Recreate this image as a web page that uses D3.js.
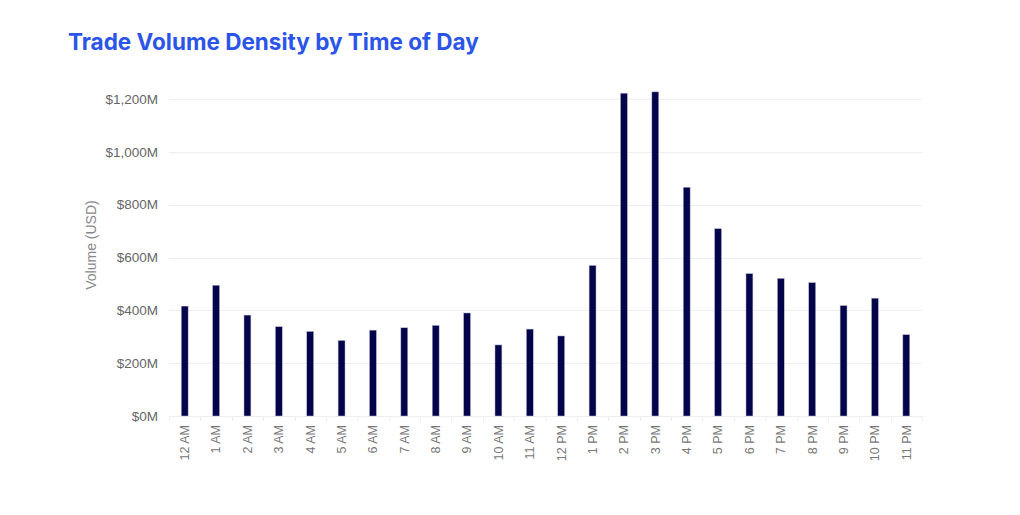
<!DOCTYPE html>
<html><head><meta charset="utf-8">
<script src="https://cdn.jsdelivr.net/npm/d3@7"></script>
<style>body{margin:0;background:#fff;} svg{display:block;}</style>
</head><body>
<svg id="chart" width="1020" height="515"></svg>
<script>
const categories = ["12 AM","1 AM","2 AM","3 AM","4 AM","5 AM","6 AM","7 AM","8 AM","9 AM","10 AM","11 AM",
  "12 PM","1 PM","2 PM","3 PM","4 PM","5 PM","6 PM","7 PM","8 PM","9 PM","10 PM","11 PM"];
const volumes = [416, 495, 382, 338, 320, 286, 325, 334, 343, 390, 269, 329,
  303, 570, 1222, 1227, 866, 709, 539, 521, 505, 418, 446, 308];
const yTicks = [0, 200, 400, 600, 800, 1000, 1200];
const titleText = "Trade Volume Density by Time of Day";
const yTitle = "Volume (USD)";

const svg = d3.select("#chart");
const pLeft = 169, pRight = 922, pTop = 99, pBottom = 416;

const x = d3.scaleBand().domain(categories).range([pLeft, pRight]).paddingInner(0.78).paddingOuter(0.39);
const y = d3.scaleLinear().domain([0, 1200]).range([pBottom, pTop]);

svg.append("text").attr("x", 68).attr("y", 50)
  .attr("font-family", "Inter, 'Open Sans', sans-serif").attr("font-weight", 700)
  .attr("font-size", 22.5).attr("fill", "#2b54e8").text(titleText);

// grid
svg.append("g").selectAll("line").data(yTicks).join("line")
  .attr("x1", pLeft).attr("x2", pRight)
  .attr("y1", d => Math.round(y(d)) + 0.5).attr("y2", d => Math.round(y(d)) + 0.5)
  .attr("stroke", "#eeeeee").attr("stroke-width", 1);

// y axis labels
const yAxis = svg.append("g").attr("transform", `translate(${pLeft},0)`)
  .call(d3.axisLeft(y).tickValues(yTicks).tickSize(0).tickPadding(11)
    .tickFormat(d => "$" + d3.format(",")(d) + "M"));
yAxis.select(".domain").remove();
yAxis.selectAll("text").attr("font-family", "'Liberation Sans', Arial, sans-serif")
  .attr("font-size", 13.5).attr("fill", "#666");

svg.append("text").attr("transform", `translate(96,245) rotate(-90)`)
  .attr("text-anchor", "middle").attr("font-family", "'Liberation Sans', Arial, sans-serif")
  .attr("font-size", 14).attr("fill", "#888").text(yTitle);

// x axis band-edge ticks
const step = x.step();
const edges = categories.map(c => x(c) - (step - x.bandwidth()) / 2).concat([pRight]);
svg.append("g").selectAll("line").data(edges).join("line")
  .attr("x1", d => Math.round(d) + 0.5).attr("x2", d => Math.round(d) + 0.5)
  .attr("y1", pBottom).attr("y2", pBottom + 5).attr("stroke", "#eeeeee");

// bars
svg.append("g").selectAll("rect").data(volumes).join("rect")
  .attr("x", (d, i) => x(categories[i])).attr("width", x.bandwidth())
  .attr("y", d => y(d)).attr("height", d => y(0) - y(d))
  .attr("fill", "#03044a").attr("stroke", "#b9b9d6").attr("stroke-width", 0.5);

// x labels
const xAxis = svg.append("g").attr("transform", `translate(0,${pBottom})`)
  .call(d3.axisBottom(x).tickSize(0).tickPadding(0));
xAxis.select(".domain").remove();
xAxis.selectAll("text").attr("font-family", "'Liberation Sans', Arial, sans-serif")
  .attr("font-size", 12.5).attr("fill", "#777")
  .attr("text-anchor", "end").attr("dy", "0.35em")
  .attr("transform", "translate(0,9) rotate(-90)");
</script>
</body></html>
